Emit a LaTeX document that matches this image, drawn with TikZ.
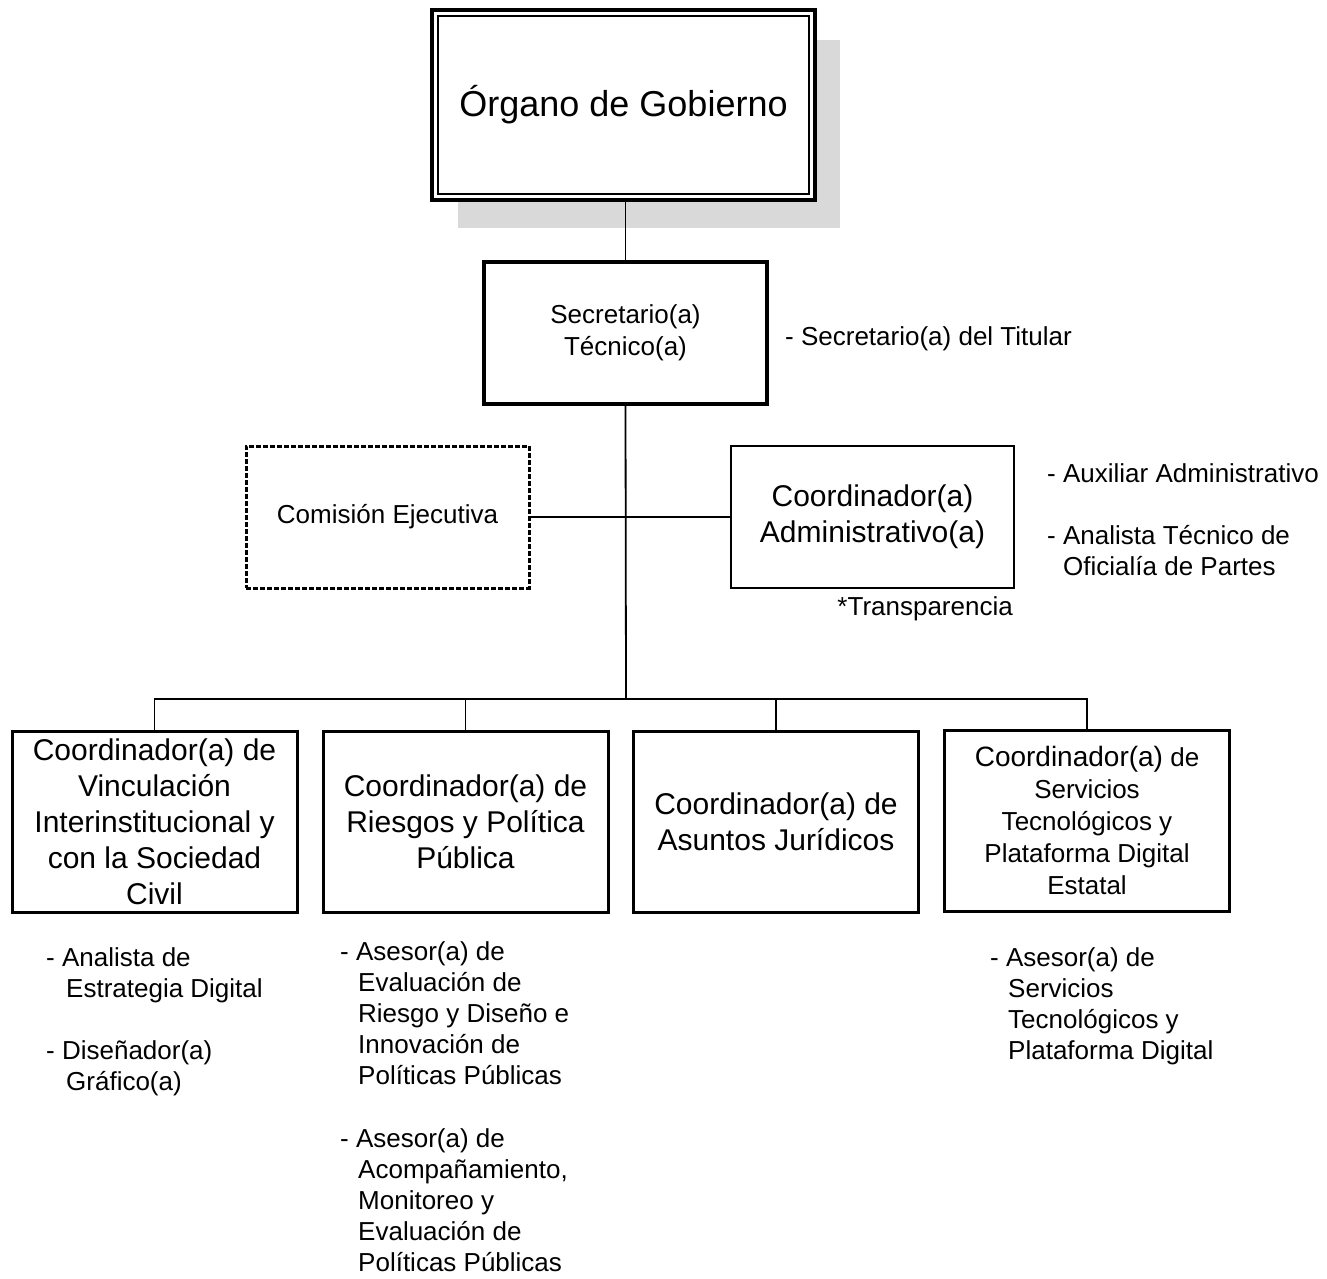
\documentclass[tikz,border=0pt]{standalone}
\usepackage{fontspec}
\setmainfont{Liberation Sans}
\begin{document}
\begin{tikzpicture}[x=1pt,y=-1pt,
  box/.style={draw=black, line width=3pt, fill=white, align=center, inner sep=2pt},
  conn/.style={line width=1.8pt},
  note/.style={inner sep=0pt, align=left, font=\fontsize{26}{31}\selectfont},
  bigtxt/.style={font=\fontsize{30}{36}\selectfont}
]
\useasboundingbox (0,0) rectangle (1327,1278);
% shadow of top box
\fill[gray!30] (458,40) rectangle (840,228);
% top box
\node[box, line width=4pt, minimum width=383pt, minimum height=190pt,
      font=\fontsize{36}{43}\selectfont] (top) at (623.5,105) {Órgano de Gobierno};
\draw[line width=2pt] ([shift={(8pt,8pt)}]top.south west) rectangle ([shift={(-8pt,-8pt)}]top.north east);
% secretario
\node[box, line width=3.5pt, minimum width=283pt, minimum height=142pt,
      font=\fontsize{26}{32}\selectfont] (sec) at (625.5,333) {Secretario(a)\\Técnico(a)};
% comision
\node[box, dashed, dash pattern=on 5pt off 2pt, line width=3pt, minimum width=283pt, minimum height=142pt,
      font=\fontsize{26}{32}\selectfont] (com) at (387.5,517) {Comisión Ejecutiva};
% coordinador administrativo
\node[box, line width=2.5pt, minimum width=283pt, minimum height=142pt, bigtxt] (adm) at (872.5,517) {Coordinador(a)\\Administrativo(a)};
% bottom boxes
\node[box, minimum width=285pt, minimum height=181pt, bigtxt] (b1) at (154.5,822)
  {Coordinador(a) de\\Vinculación\\Interinstitucional y\\con la Sociedad\\Civil};
\node[box, minimum width=285pt, minimum height=181pt, bigtxt] (b2) at (465.5,822)
  {Coordinador(a) de\\Riesgos y Política\\Pública};
\node[box, minimum width=285pt, minimum height=181pt, bigtxt] (b3) at (776,821.5)
  {Coordinador(a) de\\Asuntos Jurídicos};
\node[box, minimum width=285pt, minimum height=181pt, font=\fontsize{26}{32}\selectfont] (b4) at (1087,820.5)
  {{\fontsize{28}{32}\selectfont Coordinador(a)} de\\Servicios\\Tecnológicos y\\Plataforma Digital\\Estatal};
% connectors
\coordinate (bus) at (626,699);
\draw[conn] (top.south -| sec.north) -- (sec.north);
\draw[conn] (sec.south) -- (bus);
\draw[conn] (com.east) -- (adm.west);
\draw[conn] (b1.north) |- (bus) -| (b4.north);
\draw[conn] (b2.north) -- (b2.north |- bus);
\draw[conn] (b3.north) -- (b3.north |- bus);
% notes
\node[note, anchor=north west] (nsec) at (785,326) {- Secretario(a) del Titular};
\node[note, anchor=north west] (nadm) at (1047,463)
  {- Auxiliar Administrativo\\[31pt]- Analista Técnico de\\\hspace*{16pt}Oficialía de Partes};
\node[note, anchor=north east] (ntr) at (1013,596) {*Transparencia};
\node[note, anchor=north west] (n1) at (46,947)
  {- Analista de\\\hspace*{20pt}Estrategia Digital\\[31pt]- Diseñador(a)\\\hspace*{20pt}Gráfico(a)};
\node[note, anchor=north west] (n2) at (340,941)
  {- Asesor(a) de\\\hspace*{18pt}Evaluación de\\\hspace*{18pt}Riesgo y Diseño e\\\hspace*{18pt}Innovación de\\\hspace*{18pt}Políticas Públicas\\[32pt]- Asesor(a) de\\\hspace*{18pt}Acompañamiento,\\\hspace*{18pt}Monitoreo y\\\hspace*{18pt}Evaluación de\\\hspace*{18pt}Políticas Públicas};
\node[note, anchor=north west] (n4) at (990,947)
  {- Asesor(a) de\\\hspace*{18pt}Servicios\\\hspace*{18pt}Tecnológicos y\\\hspace*{18pt}Plataforma Digital};
\end{tikzpicture}
\end{document}
